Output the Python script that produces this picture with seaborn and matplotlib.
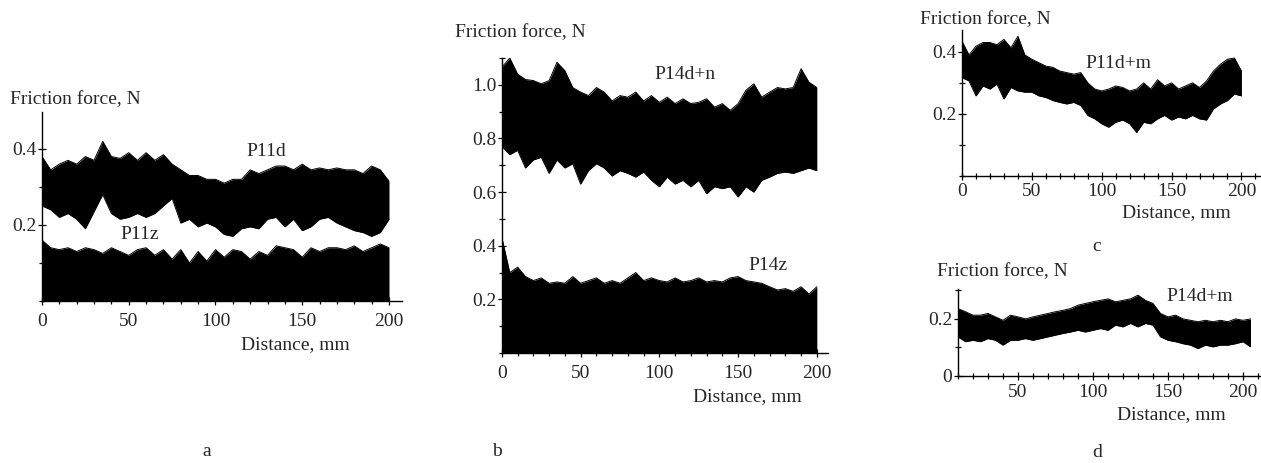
import numpy as np
import pandas as pd
import seaborn as sns
import matplotlib.pyplot as plt
from matplotlib.ticker import MultipleLocator, FixedLocator

# ------------------------------------------
# Data (band envelopes of the noisy traces)
# ------------------------------------------
dist = np.arange(0, 201, 5)          # mm, panels a, b, c
dist_d = np.arange(10, 206, 5)       # mm, panel d starts at 10

# a: P11d (upper / lower edge) and P11z (upper edge, band down to 0)
p11d_up = [0.38, 0.345, 0.36, 0.37, 0.36, 0.38, 0.37, 0.42, 0.38, 0.375, 0.39,
           0.37, 0.39, 0.37, 0.385, 0.36, 0.345, 0.33, 0.33, 0.32, 0.32, 0.31,
           0.32, 0.32, 0.345, 0.335, 0.345, 0.355, 0.355, 0.345, 0.36, 0.345,
           0.35, 0.345, 0.35, 0.345, 0.345, 0.335, 0.355, 0.345, 0.315]
p11d_lo = [0.25, 0.24, 0.22, 0.23, 0.215, 0.19, 0.235, 0.28, 0.23, 0.215, 0.22,
           0.23, 0.22, 0.23, 0.25, 0.27, 0.205, 0.215, 0.195, 0.205, 0.195, 0.175,
           0.17, 0.19, 0.195, 0.19, 0.215, 0.22, 0.195, 0.215, 0.185, 0.195,
           0.215, 0.22, 0.205, 0.195, 0.185, 0.18, 0.17, 0.18, 0.215]
p11z_up = [0.16, 0.14, 0.135, 0.14, 0.13, 0.14, 0.135, 0.125, 0.14, 0.13, 0.12,
           0.135, 0.14, 0.12, 0.135, 0.11, 0.135, 0.10, 0.13, 0.105, 0.135, 0.115,
           0.135, 0.13, 0.11, 0.13, 0.12, 0.145, 0.14, 0.135, 0.115, 0.14,
           0.13, 0.14, 0.14, 0.135, 0.145, 0.13, 0.14, 0.15, 0.14]

# b: P14d+n and P14z
p14dn_up = [1.066, 1.10, 1.04, 1.02, 1.016, 1.004, 1.016, 1.084, 1.053, 0.99, 0.973,
            0.96, 0.99, 0.973, 0.94, 0.96, 0.954, 0.973, 0.94, 0.96, 0.935, 0.954,
            0.93, 0.948, 0.93, 0.935, 0.948, 0.917, 0.93, 0.905, 0.93, 0.98,
            1.004, 0.954, 0.973, 0.99, 0.985, 0.99, 1.06, 1.01, 0.99]
p14dn_lo = [0.77, 0.74, 0.756, 0.69, 0.72, 0.73, 0.67, 0.72, 0.69, 0.706, 0.63,
            0.68, 0.706, 0.69, 0.66, 0.68, 0.67, 0.656, 0.675, 0.644, 0.62, 0.656,
            0.63, 0.644, 0.62, 0.644, 0.594, 0.62, 0.613, 0.62, 0.582, 0.62,
            0.60, 0.644, 0.656, 0.67, 0.675, 0.67, 0.68, 0.69, 0.68]
p14z_up = [0.43, 0.30, 0.32, 0.285, 0.27, 0.28, 0.26, 0.265, 0.26, 0.285, 0.26,
           0.27, 0.28, 0.26, 0.27, 0.26, 0.28, 0.30, 0.27, 0.28, 0.27, 0.265,
           0.28, 0.265, 0.27, 0.28, 0.265, 0.27, 0.265, 0.28, 0.285, 0.27,
           0.265, 0.26, 0.247, 0.235, 0.24, 0.23, 0.247, 0.22, 0.247]

# c: P11d+m
p11dm_up = [0.434, 0.39, 0.418, 0.43, 0.43, 0.423, 0.44, 0.413, 0.45, 0.39, 0.376,
            0.365, 0.354, 0.35, 0.338, 0.333, 0.328, 0.333, 0.30, 0.28, 0.274, 0.28,
            0.29, 0.285, 0.274, 0.28, 0.30, 0.28, 0.31, 0.29, 0.30, 0.28,
            0.29, 0.30, 0.285, 0.306, 0.338, 0.36, 0.376, 0.38, 0.338]
p11dm_lo = [0.317, 0.306, 0.258, 0.29, 0.28, 0.296, 0.248, 0.285, 0.274, 0.27, 0.27,
            0.258, 0.253, 0.243, 0.237, 0.232, 0.237, 0.227, 0.195, 0.184, 0.168, 0.157,
            0.173, 0.18, 0.168, 0.14, 0.173, 0.168, 0.184, 0.195, 0.18, 0.19,
            0.184, 0.195, 0.184, 0.18, 0.216, 0.232, 0.243, 0.264, 0.258]

# d: P14d+m
p14dm_up = [0.236, 0.225, 0.213, 0.213, 0.219, 0.207, 0.195, 0.213, 0.207, 0.20,
            0.207, 0.213, 0.219, 0.225, 0.23, 0.236, 0.248, 0.254, 0.26, 0.265,
            0.27, 0.26, 0.265, 0.27, 0.283, 0.265, 0.254, 0.219, 0.207, 0.213,
            0.20, 0.195, 0.19, 0.195, 0.19, 0.195, 0.19, 0.20, 0.195, 0.20]
p14dm_lo = [0.137, 0.12, 0.125, 0.12, 0.131, 0.125, 0.108, 0.125, 0.125, 0.131,
            0.125, 0.131, 0.137, 0.143, 0.149, 0.154, 0.16, 0.154, 0.16, 0.166,
            0.16, 0.178, 0.172, 0.184, 0.172, 0.184, 0.178, 0.137, 0.125, 0.12,
            0.113, 0.108, 0.096, 0.108, 0.102, 0.108, 0.108, 0.113, 0.12, 0.102]

# ------------------------------------------
# Figure setup
# ------------------------------------------
sns.set_theme(style="ticks")
plt.rcParams["font.family"] = ["Liberation Serif", "DejaVu Serif"]
FS = 14
plt.rcParams["font.size"] = FS

fig = plt.figure(figsize=(12.61, 4.63), dpi=100)


def band(ax, x, up, lo):
    df = pd.DataFrame({"x": x, "up": up, "lo": lo})
    ax.fill_between(df["x"], df["lo"], df["up"], color="black", lw=0)
    sns.lineplot(data=df, x="x", y="up", ax=ax, color="black", lw=0.7)
    sns.lineplot(data=df, x="x", y="lo", ax=ax, color="black", lw=0.7)


def style(ax, xlim, ylim, yticks, ylabels, xticks):
    ax.set_xlim(*xlim)
    ax.set_ylim(*ylim)
    for s in ["top", "right"]:
        ax.spines[s].set_visible(False)
    for s in ["left", "bottom"]:
        ax.spines[s].set_color("black")
        ax.spines[s].set_linewidth(1.0)
    ax.set_facecolor("white")
    ax.set_xlabel("")
    ax.set_ylabel("")
    ax.xaxis.set_major_locator(FixedLocator(xticks))
    ax.xaxis.set_minor_locator(MultipleLocator(10))
    ax.yaxis.set_major_locator(FixedLocator(yticks))
    ax.set_yticklabels(ylabels)
    ax.yaxis.set_minor_locator(MultipleLocator(0.1))
    ax.tick_params(which="both", direction="inout", length=6, width=0.9,
                   color="black", labelsize=FS)
    ax.tick_params(axis="x", pad=6)
    ax.tick_params(axis="y", pad=1)
    ax.tick_params(which="minor", length=5)


# ---- a ----
ax_a = fig.add_axes([0.0333, 0.350, 0.2855, 0.408])
band(ax_a, dist, p11d_up, p11d_lo)
band(ax_a, dist, p11z_up, [0.0] * len(dist))
style(ax_a, (0, 207.5), (0, 0.497), [0.2, 0.4], ["0.2", "0.4"],
      [0, 50, 100, 150, 200])
ax_a.text(129, 0.392, "P11d", ha="center", va="center", fontsize=FS)
ax_a.text(56, 0.174, "P11z", ha="center", va="center", fontsize=FS)
fig.text(0.008, 0.784, "Friction force, N", ha="left", va="center", fontsize=FS)
fig.text(0.234, 0.255, "Distance, mm", ha="center", va="center", fontsize=FS)
fig.text(0.164, 0.024, "a", ha="center", va="center", fontsize=FS)

# ---- b ----
ax_b = fig.add_axes([0.398, 0.2376, 0.2585, 0.637])
band(ax_b, dist, p14dn_up, p14dn_lo)
band(ax_b, dist, p14z_up, [0.0] * len(dist))
style(ax_b, (0, 207), (0, 1.1), [0.2, 0.4, 0.6, 0.8, 1.0],
      ["0.2", "0.4", "0.6", "0.8", "1.0"], [0, 50, 100, 150, 200])
ax_b.text(116, 1.04, "P14d+n", ha="center", va="center", fontsize=FS)
ax_b.text(169, 0.327, "P14z", ha="center", va="center", fontsize=FS)
fig.text(0.361, 0.929, "Friction force, N", ha="left", va="center", fontsize=FS)
fig.text(0.593, 0.143, "Distance, mm", ha="center", va="center", fontsize=FS)
fig.text(0.394, 0.024, "b", ha="center", va="center", fontsize=FS)

# ---- c ----
ax_c = fig.add_axes([0.7629, 0.620, 0.2371, 0.315])
band(ax_c, dist, p11dm_up, p11dm_lo)
style(ax_c, (0, 214), (0, 0.47), [0.2, 0.4], ["0.2", "0.4"],
      [0, 50, 100, 150, 200])
ax_c.tick_params(axis="x", pad=2)
ax_c.text(112, 0.361, "P11d+m", ha="center", va="center", fontsize=FS)
fig.text(0.7296, 0.957, "Friction force, N", ha="left", va="center", fontsize=FS)
fig.text(0.933, 0.540, "Distance, mm", ha="center", va="center", fontsize=FS)
fig.text(0.870, 0.467, "c", ha="center", va="center", fontsize=FS)

# ---- d ----
ax_d = fig.add_axes([0.7597, 0.188, 0.2403, 0.188])
band(ax_d, dist_d, p14dm_up, p14dm_lo)
style(ax_d, (10, 212), (0, 0.305), [0.0, 0.2], ["0", "0.2"],
      [50, 100, 150, 200])
ax_d.yaxis.set_minor_locator(FixedLocator([0.1, 0.3]))
ax_d.tick_params(axis="x", pad=3)
ax_d.text(171, 0.28, "P14d+m", ha="center", va="center", fontsize=FS)
fig.text(0.743, 0.413, "Friction force, N", ha="left", va="center", fontsize=FS)
fig.text(0.929, 0.105, "Distance, mm", ha="center", va="center", fontsize=FS)
fig.text(0.870, 0.022, "d", ha="center", va="center", fontsize=FS)

fig.savefig("out.png", dpi=100, facecolor="white")
